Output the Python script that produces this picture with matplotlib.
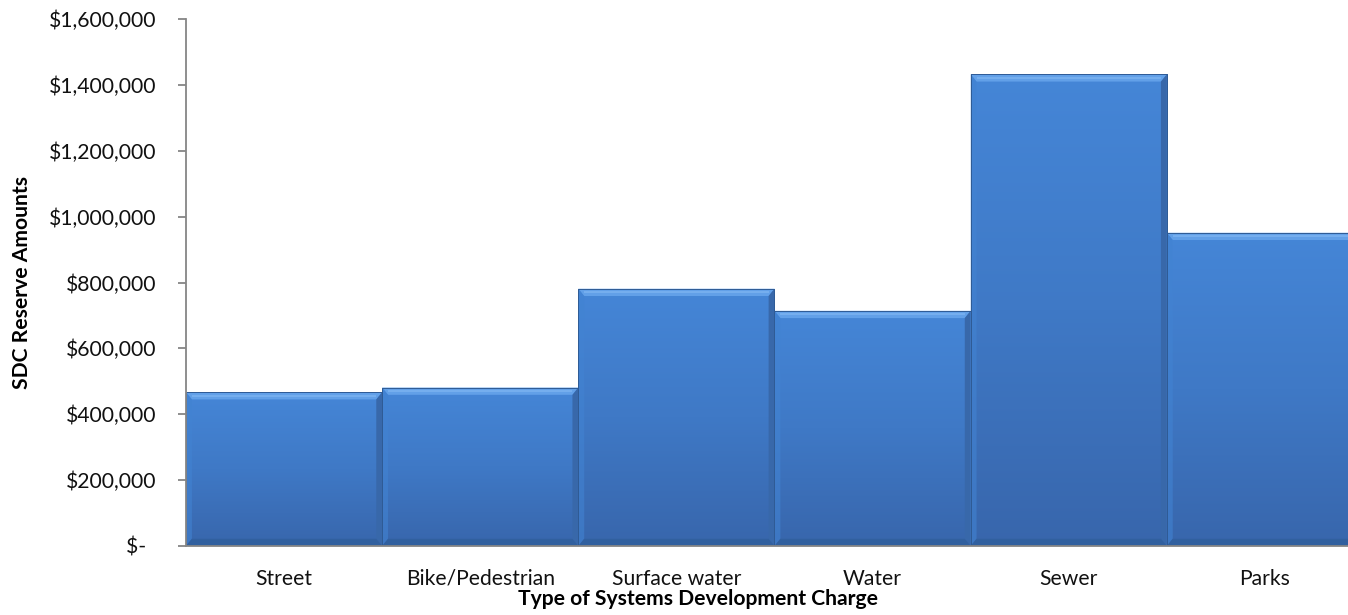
"""
SDC reserve amounts by type of systems development charge (Excel-style bevelled bars).
"""
import matplotlib
matplotlib.use("Agg")
import matplotlib.pyplot as plt
import numpy as np
from matplotlib.colors import LinearSegmentedColormap
from matplotlib.patches import Polygon
from matplotlib.ticker import FuncFormatter, MultipleLocator

plt.rcParams["font.family"] = ["Lato", "DejaVu Sans"]

categories = ["Street", "Bike/Pedestrian", "Surface water", "Water", "Sewer", "Parks"]
reserves = [467000, 481000, 781000, 714000, 1432000, 951000]
y_max = 1600000
y_step = 200000

GRAD = LinearSegmentedColormap.from_list("bar", ["#3866ac", "#3f79c6", "#4586d7"])
FS = 15.2


def money(v, _pos):
    if v == 0:
        return "$-  "
    return f"${v:,.0f}"


def bevel_bar(ax, patch):
    x0, y0 = patch.get_x(), patch.get_y()
    x1, h = x0 + patch.get_width(), patch.get_height()
    grad = np.linspace(0, 1, 256).reshape(-1, 1)
    im = ax.imshow(grad, cmap=GRAD, origin="lower", aspect="auto",
                   extent=(x0, x1, y0, h), zorder=2)
    im.set_clip_path(patch)
    dx, dy = 0.03, 22000  # bevel size (~6-7 px)
    top = Polygon([(x0, h), (x1, h), (x1 - dx, h - dy), (x0 + dx, h - dy)],
                  closed=True, facecolor="#62a0e8", edgecolor="none", zorder=3)
    right = Polygon([(x1, h), (x1, y0), (x1 - dx, y0 + dy), (x1 - dx, h - dy)],
                    closed=True, facecolor="#3868aa", edgecolor="none", zorder=3)
    left = Polygon([(x0, h), (x0, y0), (x0 + dx, y0 + dy), (x0 + dx, h - dy)],
                   closed=True, facecolor="#4283d2", edgecolor="none", zorder=3,
                   alpha=0.6)
    bottom = Polygon([(x0, y0), (x1, y0), (x1 - dx, y0 + dy), (x0 + dx, y0 + dy)],
                     closed=True, facecolor="#31609f", edgecolor="none", zorder=3)
    for p in (top, right, left, bottom):
        ax.add_patch(p)
    ax.plot([x0 + dx, x1 - dx], [h - dy * 0.5, h - dy * 0.5], color="#86bbf3",
            lw=1.5, alpha=0.55, zorder=4, solid_capstyle="butt")
    ax.plot([x0, x1, x1, x0, x0], [y0, y0, h, h, y0], color="#2f5b95", lw=0.7,
            zorder=5)


fig = plt.figure(figsize=(13.48, 6.15), dpi=100)
ax = fig.add_axes([186 / 1348, 69 / 615, 1177 / 1348, 527 / 615])

x = np.arange(len(categories))
bars = ax.bar(x, reserves, width=1.0, color="none", edgecolor="none", zorder=1)
ax.set_xlim(-0.5, len(categories) - 0.5)
ax.set_ylim(0, y_max)
for b in bars:
    bevel_bar(ax, b)

ax.yaxis.set_major_locator(MultipleLocator(y_step))
ax.yaxis.set_major_formatter(FuncFormatter(money))
ax.set_xticks(x)
ax.set_xticklabels(categories)

for s in ("top", "right"):
    ax.spines[s].set_visible(False)
for s in ("left", "bottom"):
    ax.spines[s].set_color("#868686")
    ax.spines[s].set_linewidth(1.3)
    ax.spines[s].set_zorder(6)
ax.tick_params(axis="y", length=6, width=1.3, color="#868686", pad=15,
               labelsize=FS, labelcolor="#111111")
ax.tick_params(axis="x", length=0, pad=16.5, labelsize=FS, labelcolor="#111111")

ax.set_ylabel("SDC Reserve Amounts", fontsize=FS, fontweight="bold")
ax.yaxis.set_label_coords(-0.131, 0.5)
ax.set_xlabel("Type of Systems Development Charge", fontsize=FS, fontweight="bold")
ax.xaxis.set_label_coords(0.435, -0.081)

fig.savefig("out.png", dpi=100, facecolor="white")
